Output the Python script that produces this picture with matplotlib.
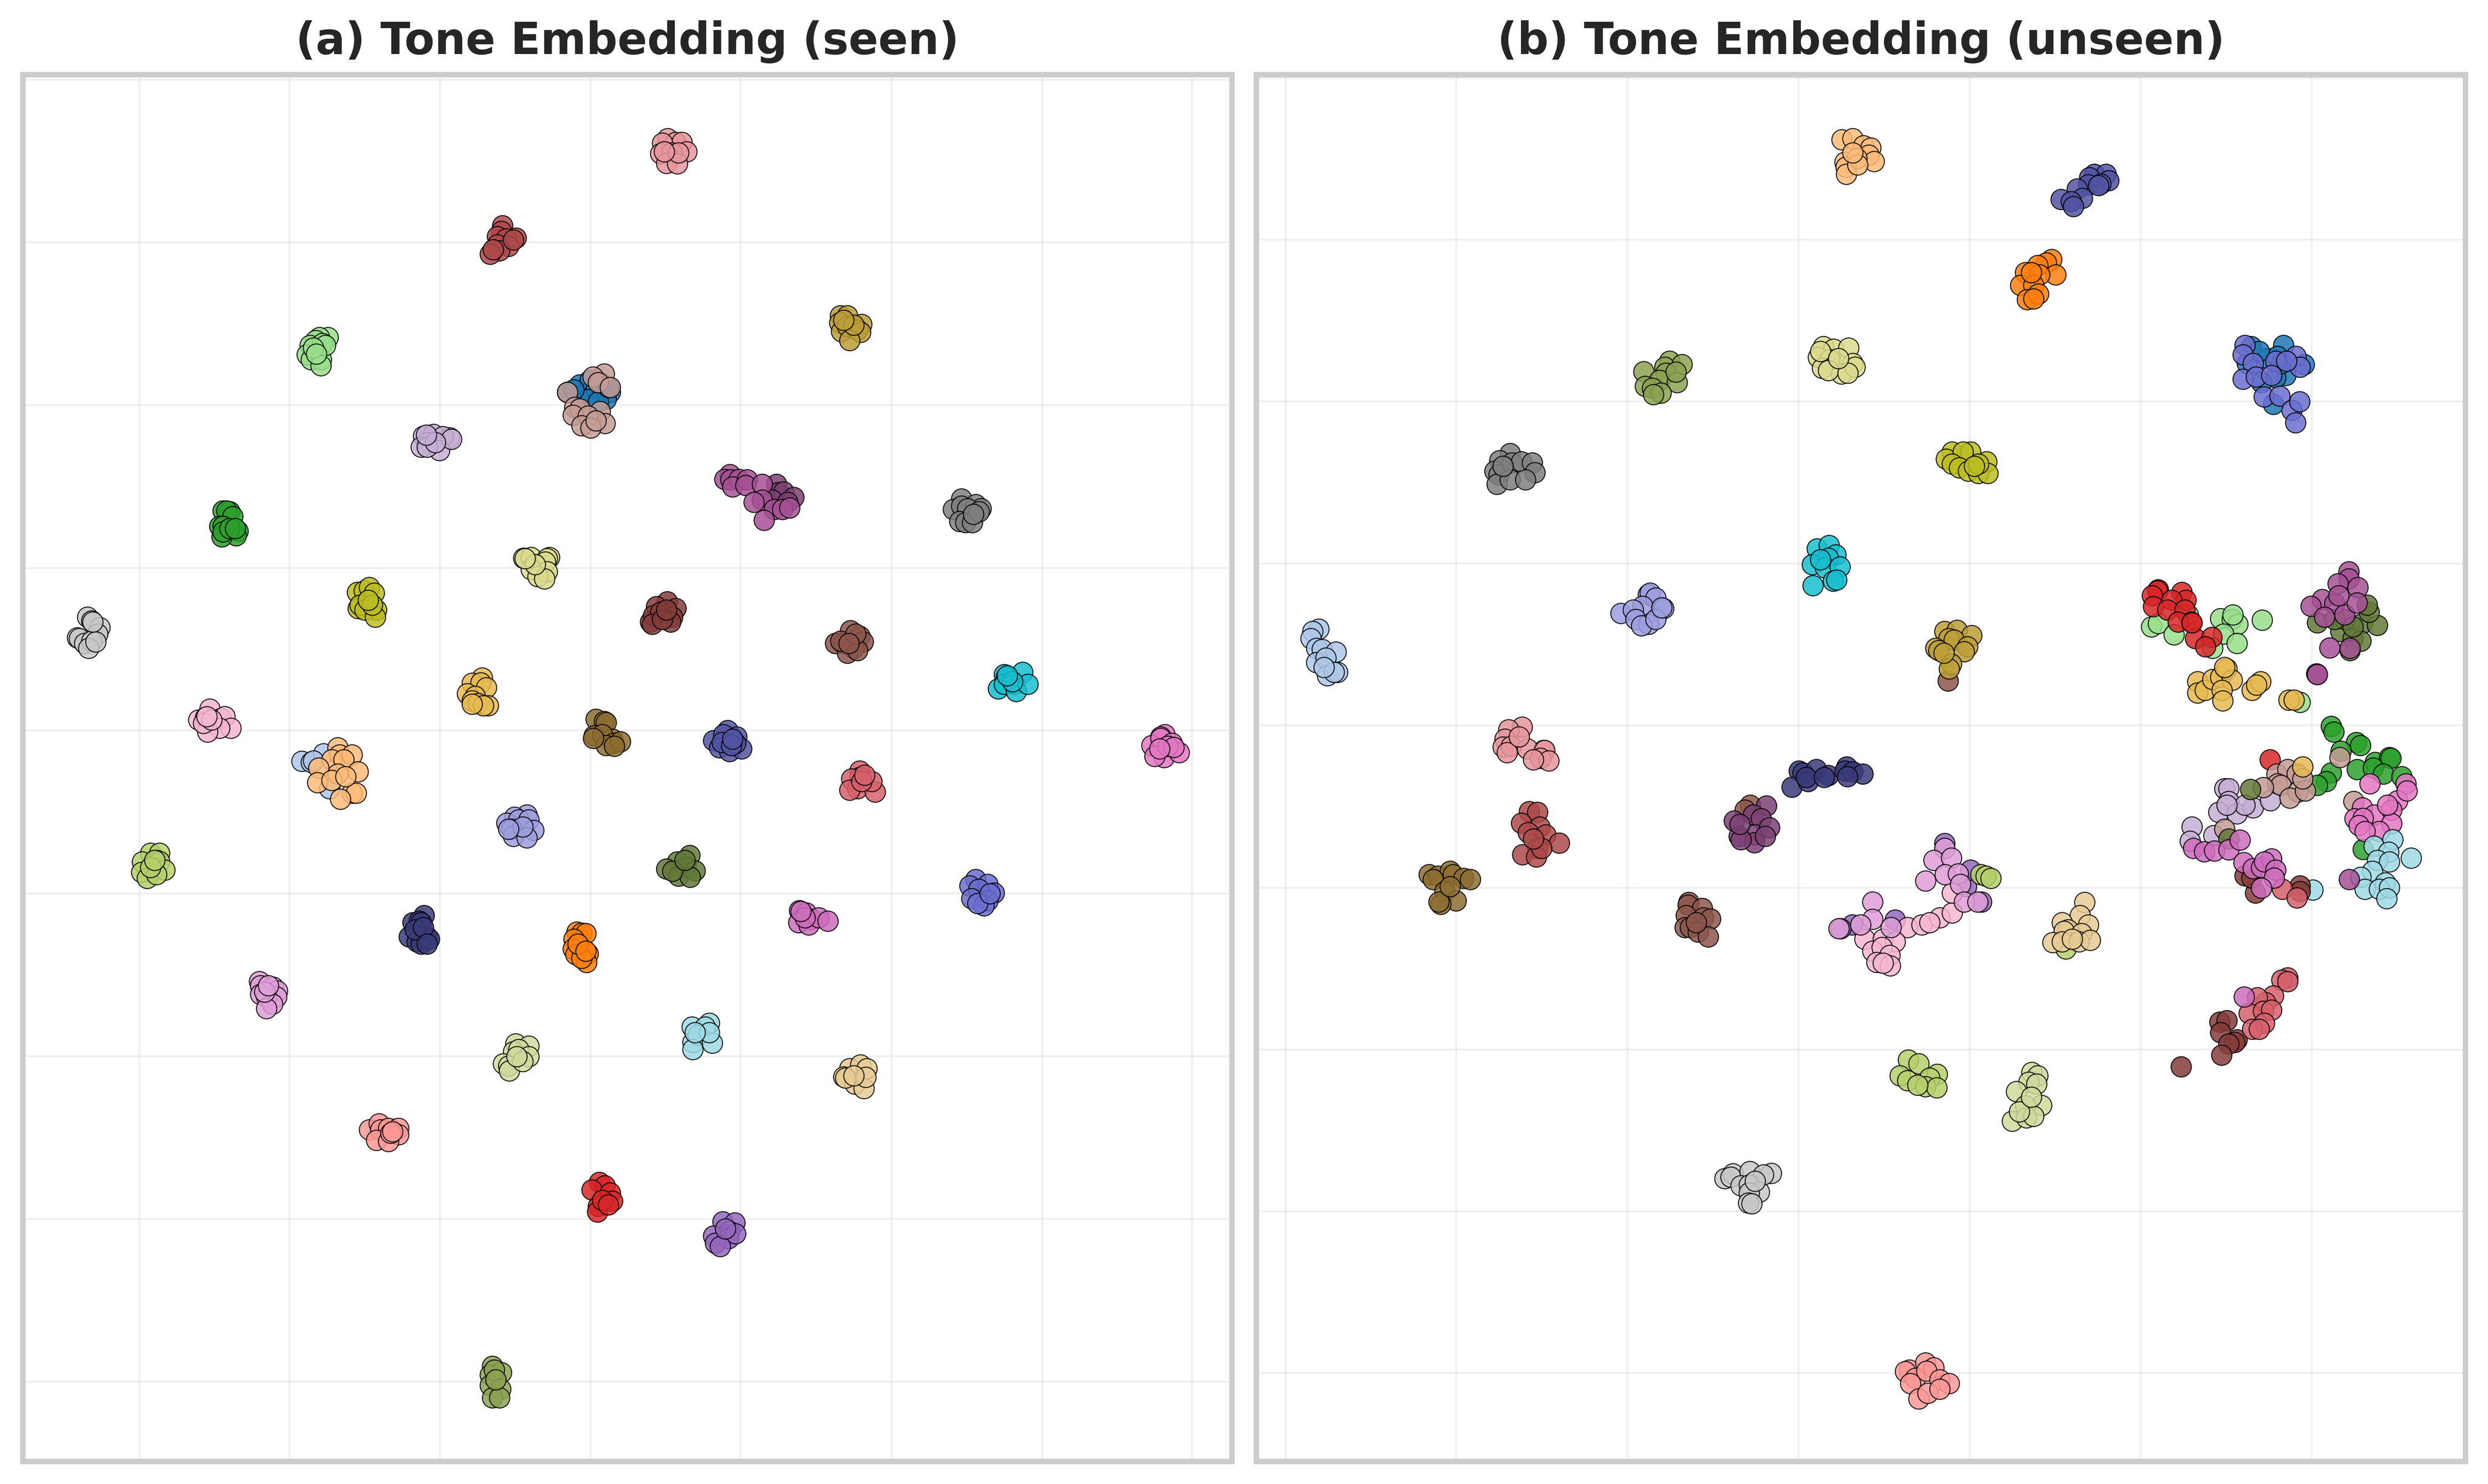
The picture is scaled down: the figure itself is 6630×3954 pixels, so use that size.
import numpy as np
import matplotlib
matplotlib.use("Agg")
from matplotlib import pyplot as plt

FILENAME = "out.png"
WIDTH, HEIGHT, DPI = 6630, 3955, 400

# embedding positions, one list per tone class (seen)
a_blue = [(1395,820),(1425,805),(1432,825),(1450,795),(1465,815),(1500,820),(1490,835),(1445,835),(1470,840),(1410,815),(1475,800),(1495,810)]
a_ltblue = [(742,1591),(765,1593),(795,1575),(810,1648),(770,1590)]
a_orange = [(1418,1948),(1430,1950),(1440,1951),(1410,1963),(1408,1983),(1415,1995),(1445,1993),(1442,2011),(1430,2003),(1420,1973),(1440,1988)]
a_ltorange = [(830,1563),(835,1578),(865,1578),(815,1588),(845,1588),(783,1605),(880,1613),(830,1618),(780,1636),(815,1631),(865,1658),(875,1658),(837,1670),(850,1623)]
a_green = [(548,1068),(565,1070),(557,1068),(572,1080),(540,1100),(548,1100),(585,1110),(580,1120),(545,1122),(548,1112),(565,1105),(578,1105)]
a_ltgreen = [(806,706),(785,706),(776,712),(762,722),(792,718),(755,742),(765,752),(790,752),(789,765),(800,722),(770,728),(778,740)]
a_red = [(1473,2471),(1487,2478),(1455,2486),(1500,2493),(1505,2510),(1470,2521),(1468,2533),(1480,2508),(1495,2518)]
a_salmon = [(908,2361),(932,2348),(935,2361),(955,2358),(980,2358),(980,2371),(925,2383),(955,2385),(960,2368),(965,2365)]
a_purple = [(1776,2553),(1806,2555),(1793,2573),(1753,2583),(1790,2588),(1808,2578),(1758,2598),(1770,2605),(1783,2568)]
a_lavender = [(1040,912),(1065,908),(1105,915),(1050,925),(1035,935),(1088,913),(1080,942),(1050,935),(1110,918),(1070,925),(1048,910)]
a_brown = [(2090,1318),(2053,1345),(2073,1345),(2113,1330),(2121,1342),(2098,1355),(2083,1365),(2108,1360),(2066,1340),(2103,1325),(2086,1345)]
a_tan = [(1485,782),(1457,788),(1470,800),(1500,810),(1395,820),(1412,852),(1425,855),(1408,868),(1475,860),(1487,885),(1445,870),(1430,890),(1452,895),(1465,880)]
a_pink = [(2863,1535),(2853,1540),(2831,1558),(2853,1543),(2880,1553),(2861,1583),(2898,1573),(2838,1581),(2870,1560),(2885,1562),(2850,1565)]
a_ltpink = [(516,1482),(488,1505),(505,1500),(543,1502),(553,1498),(567,1522),(540,1522),(510,1530),(500,1512),(520,1505),(508,1498)]
a_gray = [(2363,1043),(2343,1065),(2363,1058),(2398,1055),(2411,1063),(2378,1063),(2358,1090),(2373,1092),(2390,1092),(2406,1070),(2393,1075)]
a_ltgray = [(215,1290),(225,1298),(245,1312),(240,1325),(190,1333),(195,1335),(208,1345),(225,1340),(218,1355),(235,1342),(228,1300)]
a_olive = [(878,1238),(895,1235),(908,1228),(920,1240),(925,1275),(880,1272),(885,1265),(897,1275),(922,1290),(915,1265),(905,1255)]
a_ltolive = [(1287,1167),(1305,1165),(1350,1165),(1345,1168),(1340,1175),(1305,1190),(1345,1195),(1322,1205),(1338,1210),(1315,1180),(1290,1168)]
a_cyan = [(2513,1405),(2468,1410),(2473,1415),(2453,1440),(2468,1430),(2493,1430),(2498,1445),(2526,1430),(2488,1425),(2476,1412)]
a_ltcyan = [(1701,2146),(1743,2138),(1733,2146),(1703,2178),(1716,2163),(1751,2180),(1703,2193),(1743,2158),(1708,2158)]
a_navy = [(1042,1913),(1015,1928),(1030,1925),(1035,1928),(1005,1958),(1050,1958),(1025,1968),(1035,1973),(1055,1963),(1020,1943),(1040,1938),(1050,1973)]
a_indigo = [(1788,1527),(1753,1548),(1778,1535),(1811,1540),(1768,1563),(1793,1571),(1823,1565),(1808,1553),(1775,1552),(1798,1558),(1800,1545)]
a_periwinkle = [(2398,1838),(2383,1851),(2428,1848),(2443,1866),(2405,1858),(2388,1878),(2428,1883),(2418,1893),(2403,1888),(2433,1868)]
a_ltperiwinkle = [(1295,1703),(1265,1708),(1245,1720),(1275,1713),(1300,1713),(1312,1735),(1257,1733),(1262,1748),(1295,1751),(1285,1728),(1250,1733)]
a_moss = [(1695,1788),(1665,1801),(1638,1816),(1686,1813),(1668,1831),(1708,1820),(1696,1833),(1653,1821),(1683,1798)]
a_fern = [(1210,2855),(1205,2873),(1232,2868),(1205,2895),(1230,2903),(1210,2921),(1228,2921),(1215,2863),(1218,2883)]
a_lime = [(370,1783),(392,1783),(350,1801),(385,1798),(392,1800),(405,1818),(348,1823),(362,1836),(385,1828),(370,1813),(380,1798)]
a_sage = [(1267,2181),(1300,2186),(1262,2198),(1275,2193),(1300,2208),(1237,2223),(1250,2228),(1252,2238),(1285,2218),(1270,2208)]
a_umber = [(1465,1503),(1485,1508),(1490,1510),(1460,1538),(1505,1545),(1480,1535),(1508,1553),(1490,1558),(1525,1550),(1458,1543),(1510,1560)]
a_ochre = [(2065,660),(2083,660),(2118,678),(2063,675),(2068,693),(2083,682),(2108,690),(2115,695),(2088,712),(2098,680),(2073,670)]
a_gold = [(1185,1417),(1160,1428),(1182,1427),(1195,1437),(1148,1450),(1168,1455),(1160,1465),(1175,1470),(1200,1475),(1188,1475),(1160,1472)]
a_sand = [(2088,2233),(2115,2225),(2131,2233),(2073,2250),(2101,2265),(2123,2275),(2128,2251),(2078,2253),(2098,2248)]
a_maroon = [(1640,1258),(1613,1268),(1661,1272),(1598,1300),(1606,1287),(1623,1280),(1653,1290),(1603,1305),(1648,1300),(1628,1295),(1638,1275)]
a_brick = [(1235,472),(1232,484),(1222,495),(1268,498),(1244,500),(1250,515),(1222,512),(1228,525),(1205,532),(1212,522),(1262,502)]
a_rose = [(2113,1611),(2113,1625),(2093,1628),(2108,1648),(2088,1651),(2151,1655),(2143,1633),(2118,1633),(2125,1620)]
a_blush = [(1641,290),(1660,298),(1676,298),(1628,300),(1623,322),(1688,318),(1651,320),(1638,342),(1665,343),(1668,320),(1633,318)]
a_plum = [(1908,1012),(1913,1030),(1926,1028),(1951,1040),(1898,1045),(1936,1050)]
a_magenta = [(1794,992),(1781,1002),(1796,1003),(1816,1002),(1800,1018),(1836,1003),(1833,1015),(1873,1012),(1873,1045),(1853,1050),(1903,1065),(1923,1065),(1941,1062),(1878,1088)]
a_orchid = [(1965,1903),(1981,1908),(1993,1921),(1963,1928),(1988,1933),(2013,1918),(2035,1925),(1978,1918),(1968,1905)]
a_ltorchid = [(637,2051),(640,2060),(672,2063),(682,2071),(640,2078),(680,2083),(655,2083),(670,2098),(655,2108),(650,2073),(660,2060)]

# same classes, unseen panel
b_blue = [(2489,725),(2569,722),(2529,750),(2554,745),(2574,785),(2549,790),(2514,800),(2479,760),(2544,845),(2619,762),(2509,735),(2564,760)]
b_ltblue = [(197,1315),(182,1320),(178,1335),(192,1355),(205,1357),(240,1363),(192,1385),(215,1375),(218,1412),(243,1405),(235,1405),(210,1395)]
b_orange = [(1999,543),(1986,550),(1964,555),(2009,575),(1934,570),(1969,575),(1922,597),(1954,597),(1939,627),(1966,615),(1954,625),(1949,570)]
b_ltorange = [(1483,293),(1510,290),(1536,305),(1554,310),(1549,325),(1562,338),(1490,340),(1520,332),(1493,350),(1494,365),(1522,345),(1510,320)]
b_green = [(2686,1518),(2692,1530),(2748,1552),(2758,1558),(2794,1593),(2829,1583),(2832,1585),(2749,1608),(2789,1605),(2814,1618),(2859,1623),(2686,1615),(2674,1633),(2652,1641),(2764,1775),(2710,1570)]
b_ltgreen = [(2244,1310),(2261,1303),(2299,1327),(2414,1293),(2442,1295),(2456,1305),(2421,1325),(2454,1345),(2516,1296),(2394,1355),(2444,1285),(2334,1285),(2609,1468)]
b_red = [(2261,1233),(2259,1235),(2246,1245),(2319,1238),(2329,1255),(2249,1268),(2294,1255),(2284,1275),(2326,1275),(2342,1300),(2309,1300),(2352,1335),(2392,1332),(2377,1352),(2344,1302),(2535,1588)]
b_salmon = [(1649,2863),(1689,2848),(1709,2858),(1639,2866),(1664,2880),(1691,2865),(1724,2883),(1747,2891),(1652,2891),(1672,2923),(1694,2911),(1724,2903)]
b_purple = [(1509,1933),(1614,1923),(1789,1853),(1826,1885),(1736,1763),(1799,1818),(1480,1941)]
b_lavender = [(2424,1648),(2434,1648),(2434,1675),(2409,1698),(2454,1701),(2494,1688),(2536,1673),(2474,1683),(2344,1728),(2339,1758),(2397,1746),(2429,1683)]
b_brown = [(1107,1886),(1105,1891),(1140,1898),(1100,1913),(1143,1918),(1160,1920),(1097,1938),(1110,1938),(1130,1948),(1155,1958),(1125,1928),(1258,1683),(1245,1693),(1744,1423)]
b_tan = [(2552,1618),(2579,1608),(2602,1618),(2554,1638),(2562,1641),(2519,1646),(2604,1655),(2584,1668),(2622,1653),(2616,1628),(2741,1675),(2424,1733),(2707,1583)]
b_pink = [(2781,1638),(2869,1638),(2849,1673),(2872,1653),(2762,1688),(2792,1703),(2744,1711),(2764,1710),(2754,1725),(2834,1693),(2834,1721),(2804,1738),(2824,1683),(2769,1738)]
b_ltpink = [(1644,1938),(1679,1933),(1724,1918),(1754,1908),(1754,1866),(1539,1963),(1584,1963),(1614,1968),(1559,1988),(1582,1980),(1601,1996),(1569,2011),(1602,2018),(1584,2013),(1699,1928)]
b_gray = [(668,948),(642,963),(630,985),(640,993),(672,968),(695,965),(722,968),(728,988),(635,1012),(668,1003),(705,1003),(650,975)]
b_ltgray = [(1195,2463),(1215,2453),(1210,2460),(1257,2448),(1310,2452),(1290,2455),(1235,2478),(1255,2476),(1280,2491),(1255,2493),(1253,2514),(1262,2515),(1270,2468)]
b_olive = [(1754,945),(1739,960),(1799,945),(1781,945),(1754,970),(1772,978),(1839,965),(1794,985),(1819,990),(1842,990),(1819,970),(1809,975)]
b_ltolive = [(1438,725),(1463,730),(1500,728),(1425,747),(1453,752),(1435,770),(1510,760),(1482,782),(1450,775),(1515,768),(1498,780),(1430,735),(1475,750)]
b_cyan = [(1422,1147),(1452,1140),(1468,1160),(1410,1180),(1450,1167),(1442,1187),(1478,1185),(1412,1224),(1462,1215),(1470,1212),(1430,1170)]
b_ltcyan = [(2641,1860),(2837,1755),(2791,1768),(2827,1781),(2882,1793),(2799,1798),(2829,1801),(2787,1821),(2759,1833),(2819,1845),(2769,1858),(2804,1858),(2829,1855),(2822,1878)]
b_navy = [(1378,1611),(1387,1615),(1420,1608),(1360,1645),(1400,1633),(1395,1625),(1450,1621),(1495,1603),(1490,1611),(1510,1613),(1535,1618),(1440,1625),(1497,1623)]
b_indigo = [(2104,365),(2132,365),(2092,372),(2089,387),(2139,378),(2119,385),(2061,395),(2074,415),(2022,417),(2047,422),(2052,432),(2114,388)]
b_periwinkle = [(2474,722),(2469,742),(2494,760),(2599,745),(2609,768),(2549,755),(2576,755),(2469,793),(2501,788),(2539,785),(2521,830),(2559,828),(2589,858),(2608,840),(2598,884)]
b_ltperiwinkle = [(1007,1243),(1012,1240),(1025,1250),(1045,1272),(940,1282),(993,1267),(970,1275),(977,1295),(1008,1305),(990,1308),(1025,1295),(1040,1270)]
b_moss = [(2652,1302),(2709,1320),(2739,1335),(2762,1303),(2799,1307),(2779,1280),(2719,1295),(2759,1340),(2732,1360),(2739,1310),(2694,1295),(2774,1265),(2487,1650),(2434,1753)]
b_fern = [(1060,755),(1048,768),(996,777),(1090,762),(1050,780),(1035,795),(1000,808),(1078,800),(1017,812),(1038,822),(1020,825),(1075,778)]
b_lime = [(1646,2215),(1672,2223),(1717,2245),(1626,2248),(1644,2258),(1699,2253),(1689,2271),(1716,2273),(1669,2268),(1824,1828),(1837,1831),(1849,1836),(2034,1983)]
b_sage = [(1950,2241),(1964,2248),(1942,2261),(1962,2265),(1912,2281),(1974,2310),(1934,2311),(1902,2343),(1937,2336),(1954,2333),(1919,2323),(1949,2293)]
b_umber = [(468,1828),(490,1831),(520,1821),(527,1828),(553,1836),(570,1838),(478,1838),(507,1863),(535,1883),(497,1890),(492,1885),(520,1853)]
b_ochre = [(1736,1320),(1766,1317),(1802,1328),(1746,1335),(1759,1338),(1714,1355),(1721,1360),(1792,1352),(1784,1362),(1752,1388),(1747,1398),(1734,1365)]
b_gold = [(2357,1425),(2357,1448),(2376,1443),(2394,1420),(2414,1415),(2429,1398),(2442,1422),(2417,1443),(2419,1465),(2491,1443),(2512,1425),(2502,1432),(2582,1463),(2594,1463),(2424,1395),(2616,1603)]
b_sand = [(2080,1886),(2069,1913),(2089,1933),(2024,1928),(2039,1943),(2029,1946),(2001,1970),(2024,1968),(2072,1951),(2066,1968),(2094,1965),(2049,1963)]
b_maroon = [(2474,1830),(2499,1866),(2609,1851),(2609,1863),(2412,2136),(2429,2133),(2414,2158),(2454,2173),(2449,2178),(2434,2181),(2416,2205),(2317,2229),(2490,1835)]
b_brick = [(715,1696),(735,1698),(695,1720),(740,1728),(712,1740),(755,1745),(788,1762),(735,1773),(698,1786),(732,1791),(745,1773),(725,1753)]
b_rose = [(2566,1858),(2602,1876),(2579,2043),(2564,2048),(2579,2051),(2544,2081),(2524,2095),(2504,2085),(2484,2118),(2519,2113),(2539,2111),(2522,2138),(2492,2151),(2509,2151)]
b_blush = [(697,1520),(664,1525),(655,1545),(750,1568),(650,1561),(670,1560),(710,1565),(752,1568),(742,1585),(763,1590),(725,1588),(660,1573),(690,1540)]
b_plum = [(1218,1716),(1298,1684),(1265,1703),(1285,1711),(1230,1748),(1270,1745),(1305,1730),(1268,1761),(1235,1755),(1295,1748),(1232,1723)]
b_magenta = [(2729,1195),(2729,1210),(2702,1220),(2751,1228),(2664,1253),(2636,1267),(2694,1262),(2669,1290),(2719,1285),(2749,1260),(2682,1354),(2732,1355),(2650,1408),(2652,1410),(2704,1245),(2730,1838)]
b_orchid = [(2347,1773),(2374,1780),(2399,1778),(2434,1776),(2462,1756),(2471,1803),(2494,1815),(2514,1813),(2539,1795),(2522,1801),(2549,1818),(2546,1835),(2514,1856),(2472,2083)]
b_ltorchid = [(1736,1773),(1709,1798),(1752,1793),(1737,1828),(1769,1826),(1689,1841),(1774,1848),(1784,1885),(1817,1885),(1559,1885),(1559,1921),(1529,1933),(1604,1938),(1476,1941)]

SEEN = [a_blue, a_ltblue, a_orange, a_ltorange, a_green, a_ltgreen, a_red, a_salmon, a_purple, a_lavender,
        a_brown, a_tan, a_pink, a_ltpink, a_gray, a_ltgray, a_olive, a_ltolive, a_cyan, a_ltcyan,
        a_navy, a_indigo, a_periwinkle, a_ltperiwinkle, a_moss, a_fern, a_lime, a_sage, a_umber, a_ochre,
        a_gold, a_sand, a_maroon, a_brick, a_rose, a_blush, a_plum, a_magenta, a_orchid, a_ltorchid]
UNSEEN = [b_blue, b_ltblue, b_orange, b_ltorange, b_green, b_ltgreen, b_red, b_salmon, b_purple, b_lavender,
          b_brown, b_tan, b_pink, b_ltpink, b_gray, b_ltgray, b_olive, b_ltolive, b_cyan, b_ltcyan,
          b_navy, b_indigo, b_periwinkle, b_ltperiwinkle, b_moss, b_fern, b_lime, b_sage, b_umber, b_ochre,
          b_gold, b_sand, b_maroon, b_brick, b_rose, b_blush, b_plum, b_magenta, b_orchid, b_ltorchid]

TITLES = ["(a) Tone Embedding (seen)", "(b) Tone Embedding (unseen)"]
XTICKS_A = [342, 711, 1081, 1451, 1820, 2191, 2561, 2929]
YTICKS_A = [167, 507, 847, 1187, 1527, 1867, 2207, 2547, 2887]
XTICKS_B = [115, 535, 955, 1376, 1797, 2217, 2638]
YTICKS_B = [163, 501, 839, 1178, 1516, 1855, 2193, 2531, 2869]


def draw_panel(fig, box, lims, points, title, xticks, yticks, colors):
    left, top, right, bottom = box
    ax = fig.add_axes([left / WIDTH, 1 - bottom / HEIGHT, (right - left) / WIDTH, (bottom - top) / HEIGHT])
    for pts, color in zip(points, colors):
        pts = np.array(pts)
        ax.scatter(pts[:, 0], pts[:, 1], s=95, color=color, edgecolors="black", linewidths=0.5, alpha=0.85, zorder=3)

    ax.set_xlim(lims[0], lims[1])
    ax.set_ylim(lims[2], lims[3])
    ax.set_xticks(xticks)
    ax.set_yticks(yticks)
    ax.tick_params(length=0, labelbottom=False, labelleft=False)
    ax.grid(True, color="0.8", alpha=0.3, linewidth=0.9)
    ax.set_axisbelow(True)
    for spine in ax.spines.values():
        spine.set_color("#cccccc")
        spine.set_linewidth(2.6)
    ax.set_title(title, fontsize=21, fontweight="bold", color="#262626", pad=10)
    return ax


def main():
    colors = [plt.get_cmap("tab20")(i) for i in range(20)] + [plt.get_cmap("tab20b")(i) for i in range(20)]
    fig = plt.figure(figsize=(WIDTH / DPI, HEIGHT / DPI), dpi=DPI)
    draw_panel(fig, (60.6, 200, 3283, 3895), (56, 3028, 3054, 157), SEEN, TITLES[0], XTICKS_A, YTICKS_A, colors)
    draw_panel(fig, (3348, 200, 6570, 3895), (44, 3016, 3054, 157), UNSEEN, TITLES[1], XTICKS_B, YTICKS_B, colors)
    fig.savefig(FILENAME, dpi=DPI)


if __name__ == '__main__':
    main()
